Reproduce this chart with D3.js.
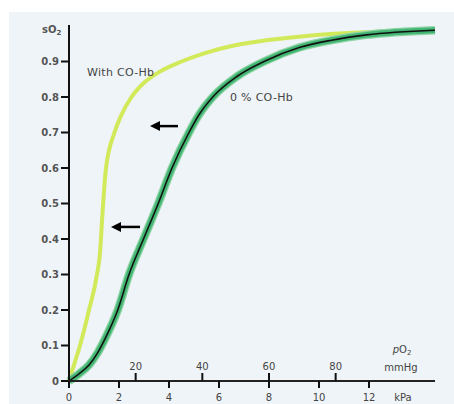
<!DOCTYPE html>
<html><head><meta charset="utf-8">
<script src="https://cdn.jsdelivr.net/npm/d3@7"></script>
<style>html,body{margin:0;padding:0;background:#fff;}svg{display:block;}</style>
</head><body>
<svg id="chart" width="454" height="404"></svg>
<script>
// ---- data (kPa, sO2) ----
const normalKPa = [0, 0.4, 0.8, 1.15, 1.45, 1.95, 2.4, 2.98, 3.57, 4.12, 4.8, 5.2, 5.75, 6.7, 7.8, 9.24, 10.5, 11.9, 14.64];
const normalSO2 = [0, 0.02, 0.045, 0.08, 0.12, 0.2, 0.3, 0.4, 0.5, 0.6, 0.7, 0.75, 0.8, 0.857, 0.9, 0.94, 0.96, 0.975, 0.988];
const coKPa = [0, 0.22, 0.44, 0.8, 1.12, 1.24, 1.32, 1.48, 1.82, 2.1, 2.5, 3.0, 3.6, 4.5, 5.5, 6.6, 7.9, 9.2, 10.6, 12.3, 14.4];
const coSO2 = [0, 0.05, 0.1, 0.2, 0.3, 0.36, 0.45, 0.6, 0.7, 0.75, 0.8, 0.84, 0.87, 0.9, 0.925, 0.945, 0.96, 0.97, 0.978, 0.984, 0.987];
const yTicks = [0, 0.1, 0.2, 0.3, 0.4, 0.5, 0.6, 0.7, 0.8, 0.9];
const yTickLabels = ["0", "0.1", "0.2", "0.3", "0.4", "0.5", "0.6", "0.7", "0.8", "0.9"];
const kPaTicks = [0, 2, 4, 6, 8, 10, 12];
const mmHgTicks = [20, 40, 60, 80];
const arrowsFrom = [[4.36, 0.718], [2.84, 0.434]];
const arrowsTo = [[3.24, 0.718], [1.68, 0.434]];

const svg = d3.select("#chart");
svg.append("rect").attr("x", 9).attr("y", 12).attr("width", 445).attr("height", 392).attr("fill", "#eff4f8");

const x = d3.scaleLinear().domain([0, 14.64]).range([69, 435]);
const y = d3.scaleLinear().domain([0, 1]).range([381, 26]);
const mmHgToKPa = 0.133322;

const font = "DejaVu Sans, Verdana, sans-serif";

// curves
const line = d3.line().x(d => x(d[0])).y(d => y(d[1])).curve(d3.curveMonotoneX);
const normal = normalKPa.map((k, i) => [k, normalSO2[i]]);
const co = coKPa.map((k, i) => [k, coSO2[i]]);

svg.append("path").attr("d", line(co)).attr("fill", "none").attr("stroke", "#d2e95a").attr("stroke-width", 4).attr("stroke-linecap", "round");
svg.append("path").attr("d", line(normal)).attr("fill", "none").attr("stroke", "#8fd4a6").attr("stroke-width", 8.5);
svg.append("path").attr("d", line(normal)).attr("fill", "none").attr("stroke", "#43b673").attr("stroke-width", 6);
svg.append("path").attr("d", line(normal)).attr("fill", "none").attr("stroke", "#111").attr("stroke-width", 1.6);

// y axis
const yAxis = svg.append("g");
yAxis.append("line").attr("x1", x(0)).attr("x2", x(0)).attr("y1", y(0) + 1).attr("y2", 25).attr("stroke", "#111").attr("stroke-width", 2);
yTicks.forEach((t, i) => {
  yAxis.append("line").attr("x1", x(0) - 8).attr("x2", x(0)).attr("y1", y(t)).attr("y2", y(t)).attr("stroke", "#111").attr("stroke-width", 2);
  yAxis.append("text").attr("x", x(0) - 10).attr("y", y(t) + 3.5).attr("text-anchor", "end")
    .attr("font-family", font).attr("font-size", 10).attr("font-weight", "bold").attr("fill", "#555").text(yTickLabels[i]);
});
yAxis.append("text").attr("x", 42).attr("y", 33).attr("font-family", font).attr("font-size", 10).attr("font-weight", "bold").attr("fill", "#555")
  .text("sO").append("tspan").attr("font-size", 7).attr("dy", 2).text("2");

// x axis
const xAxis = svg.append("g");
xAxis.append("line").attr("x1", x(0) - 1).attr("x2", x(14.64)).attr("y1", y(0)).attr("y2", y(0)).attr("stroke", "#222").attr("stroke-width", 2);
kPaTicks.forEach(t => {
  xAxis.append("line").attr("x1", x(t)).attr("x2", x(t)).attr("y1", y(0)).attr("y2", y(0) + 7).attr("stroke", "#111").attr("stroke-width", 2);
  xAxis.append("text").attr("x", x(t)).attr("y", 401).attr("text-anchor", "middle").attr("font-family", font).attr("font-size", 10).attr("fill", "#444").text(t);
});
mmHgTicks.forEach(t => {
  const k = t * mmHgToKPa;
  xAxis.append("line").attr("x1", x(k)).attr("x2", x(k)).attr("y1", y(0)).attr("y2", y(0) - 8).attr("stroke", "#111").attr("stroke-width", 2);
  xAxis.append("text").attr("x", x(k)).attr("y", 370).attr("text-anchor", "middle").attr("font-family", font).attr("font-size", 10).attr("fill", "#444").text(t);
});
xAxis.append("text").attr("x", 402).attr("y", 353).attr("text-anchor", "middle").attr("font-family", font).attr("font-size", 10).attr("fill", "#444")
  .call(t => { t.append("tspan").attr("font-style", "italic").text("p"); t.append("tspan").text("O"); t.append("tspan").attr("font-size", 7).attr("dy", 2).text("2"); });
xAxis.append("text").attr("x", 401).attr("y", 371).attr("text-anchor", "middle").attr("font-family", font).attr("font-size", 10).attr("fill", "#444").text("mmHg");
xAxis.append("text").attr("x", 403).attr("y", 401).attr("text-anchor", "middle").attr("font-family", font).attr("font-size", 10).attr("fill", "#444").text("kPa");

// labels
svg.append("text").attr("x", 87).attr("y", 76).attr("font-family", font).attr("font-size", 11).attr("letter-spacing", 0.3).attr("fill", "#444").text("With CO-Hb");
svg.append("text").attr("x", 230).attr("y", 101).attr("font-family", font).attr("font-size", 11).attr("letter-spacing", 0.3).attr("fill", "#444").text("0 % CO-Hb");

// arrows
arrowsFrom.forEach((f, i) => {
  const tTo = arrowsTo[i];
  const x0 = x(f[0]), x1 = x(tTo[0]), yy = y(f[1]);
  svg.append("line").attr("x1", x0).attr("x2", x1 + 7).attr("y1", yy).attr("y2", yy).attr("stroke", "#000").attr("stroke-width", 2.5);
  svg.append("path").attr("d", `M${x1},${yy} L${x1 + 10},${yy - 5} L${x1 + 10},${yy + 5} Z`).attr("fill", "#000");
});
</script>
</body></html>
